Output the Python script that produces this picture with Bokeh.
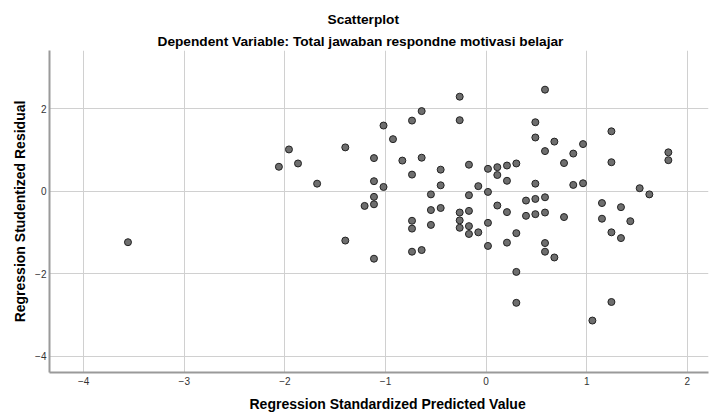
from bokeh.plotting import figure
from bokeh.models import Range1d, FixedTicker, Title
from bokeh.embed import file_html
from bokeh.resources import INLINE

# Regression standardized predicted value
pred = [-3.56, -2.06, -1.96, -1.87, -1.68, -1.40, -1.40, -1.115, -1.115, -1.115,
        -1.115, -1.115, -1.208, -1.02, -1.02, -0.926, -0.833, -0.737, -0.737, -0.737,
        -0.737, -0.737, -0.641, -0.641, -0.641, -0.549, -0.549, -0.549, -0.452, -0.452,
        -0.452, -0.263, -0.263, -0.263, -0.263, -0.263, -0.171, -0.171, -0.171, -0.171,
        -0.171, -0.078, -0.078, 0.018, 0.018, 0.018, 0.018, 0.111, 0.111, 0.111,
        0.207, 0.207, 0.207, 0.207, 0.300, 0.300, 0.300, 0.300, 0.396, 0.396,
        0.489, 0.489, 0.489, 0.489, 0.489, 0.585, 0.585, 0.585, 0.585, 0.585,
        0.585, 0.678, 0.678, 0.774, 0.774, 0.866, 0.866, 0.963, 0.963, 1.056,
        1.151, 1.151, 1.245, 1.245, 1.245, 1.245, 1.340, 1.340, 1.433, 1.526,
        1.622, 1.811, 1.811]

# Regression studentized residual
resid = [-1.24, 0.59, 1.01, 0.67, 0.18, 1.06, -1.20, 0.80, 0.24, -0.14,
         -0.32, -1.64, -0.36, 1.59, 0.10, 1.26, 0.74, 1.71, 0.40, -0.72,
         -0.91, -1.47, 1.94, 0.81, -1.43, -0.08, -0.46, -0.82, 0.52, 0.14,
         -0.41, 2.29, 1.72, -0.52, -0.71, -0.89, 0.64, -0.10, -0.48, -0.85,
         -1.04, 0.12, -1.00, 0.54, -0.02, -0.77, -1.33, 0.58, 0.39, -0.35,
         0.62, 0.25, -0.51, -1.25, 0.67, -1.02, -1.96, -2.71, -0.23, -0.60,
         1.67, 1.30, 0.18, -0.19, -0.56, 2.46, 0.97, -0.15, -0.52, -1.26,
         -1.47, 1.20, -1.61, 0.68, -0.63, 0.91, 0.15, 1.14, 0.19, -3.14,
         -0.29, -0.67, 1.45, 0.70, -1.00, -2.69, -0.39, -1.14, -0.73, 0.07,
         -0.08, 0.94, 0.75]

x_ticks = [-4, -3, -2, -1, 0, 1, 2]
y_ticks = [-4, -2, 0, 2]

title_text = "Scatterplot"
subtitle_text = "Dependent Variable: Total jawaban respondne motivasi belajar"
x_label = "Regression Standardized Predicted Value"
y_label = "Regression Studentized Residual"

FONT = "Liberation Sans"

p = figure(width=709, height=418, output_backend="svg", toolbar_location=None,
           x_range=Range1d(-4.34, 2.21), y_range=Range1d(-4.40, 3.41),
           min_border_left=49, min_border_right=1, min_border_top=50,
           min_border_bottom=45)
p.title.visible = False
p.outline_line_color = None
p.background_fill_color = "white"
p.border_fill_color = "white"

sub = Title(text=subtitle_text, align="left", text_font=FONT,
            text_font_size="13.7px", text_font_style="bold", text_color="#000000",
            offset=108, standoff=3)
main = Title(text=title_text, align="left", text_font=FONT,
             text_font_size="13.7px", text_font_style="bold", text_color="#000000",
             offset=278, standoff=8)
p.add_layout(sub, "above")
p.add_layout(main, "above")

for ax in (p.xaxis[0], p.yaxis[0]):
    ax.axis_line_color = "#9a9a9a"
    ax.axis_line_width = 2
    ax.major_tick_in = 0
    ax.major_tick_out = 0
    ax.minor_tick_line_color = None
    ax.major_label_text_font = FONT
    ax.major_label_text_font_size = "10px"
    ax.major_label_text_color = "#333333"
    ax.axis_label_text_font = FONT
    ax.axis_label_text_font_size = "14px"
    ax.axis_label_text_font_style = "bold"
    ax.axis_label_text_color = "#000000"

p.xaxis.ticker = FixedTicker(ticks=x_ticks)
p.yaxis.ticker = FixedTicker(ticks=y_ticks)
p.yaxis.axis_label = y_label
p.xaxis.major_label_standoff = 4
p.yaxis.major_label_standoff = 3
p.yaxis.axis_label_standoff = 4

xlab = Title(text=x_label, align="left", text_font=FONT,
             text_font_size="14px", text_font_style="bold", text_color="#000000",
             offset=200, standoff=13)
p.add_layout(xlab, "below")

p.xgrid.ticker = FixedTicker(ticks=x_ticks)
p.ygrid.ticker = FixedTicker(ticks=y_ticks)
p.grid.grid_line_color = "#d0d0d0"
p.grid.grid_line_width = 1

p.scatter(pred, resid, size=7, fill_color="#6e6e6e", line_color="#222222",
          line_width=1)

open("out.html", "w").write(file_html(p, INLINE))
